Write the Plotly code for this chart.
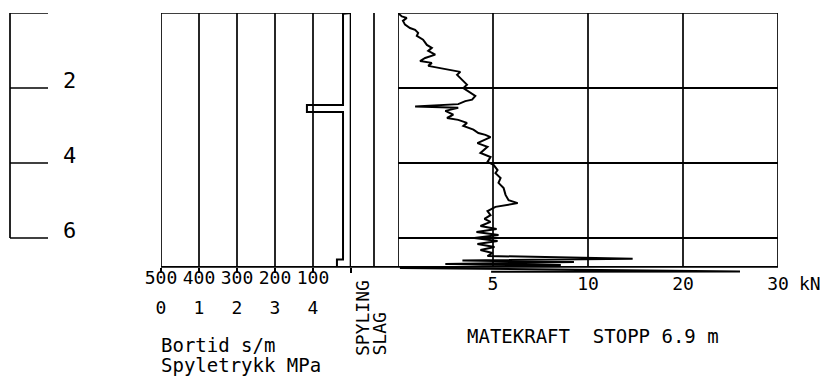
import plotly.graph_objects as go

# page is shown with an 8 px body margin: build the figure in page coordinates
OFF = 8
FIG_W, FIG_H = 822, 372
FONT = "DejaVu Sans Mono"

# ---------------- data ----------------
# depth ruler (m)
DEPTH_TICKS = [0, 2, 4, 6]
DEPTH_LABELS = ["", "2", "4", "6"]
GRID_DEPTHS = [2, 4, 6]
AXIS_BOTTOM_DEPTH = 6.77
STOP_DEPTH = 6.9

# Bortid (s/m) vs depth (m)
BORTID_DEPTH = [0.0, 0.02, 2.45, 2.45, 2.64, 2.64, 6.57, 6.57, 6.77]
BORTID_SM = [0, 21, 21, 116, 116, 21, 21, 37, 37]
BORTID_TICKS = [500, 400, 300, 200, 100, 0]
BORTID_LABELS = ["500", "400", "300", "200", "100", ""]

# Spyletrykk (MPa) scale
SPYLE_TICKS = [0, 1, 2, 3, 4]
SPYLE_LABELS = ["0", "1", "2", "3", "4"]

# Matekraft (kN) vs depth (m)
MATE_DEPTH = [0.00, 0.09, 0.13, 0.21, 0.31, 0.40, 0.45, 0.53, 0.61, 0.71,
              0.85, 0.93, 1.01, 1.11, 1.20, 1.28, 1.33, 1.41, 1.47, 1.51,
              1.55, 1.57, 1.65, 1.78, 1.91, 2.00, 2.13, 2.21, 2.31, 2.35,
              2.43, 2.49, 2.53, 2.61, 2.71, 2.80, 2.85, 2.93, 3.01, 3.11,
              3.20, 3.25, 3.31, 3.47, 3.57, 3.73, 3.84, 3.97, 4.05, 4.19,
              4.27, 4.40, 4.53, 4.67, 4.85, 4.99, 5.07, 5.12, 5.17, 5.28,
              5.39, 5.49, 5.57, 5.68, 5.76, 5.84, 5.92, 6.00, 6.08, 6.16,
              6.24, 6.32, 6.40, 6.48, 6.55, 6.60, 6.64, 6.69, 6.72, 6.80,
              6.89, 6.90]
MATE_KN = [0.0, 0.20, 0.46, 0.26, 0.37, 0.63, 0.90, 1.06, 0.99, 1.32,
           1.52, 1.78, 1.59, 1.96, 1.43, 1.16, 1.78, 1.59, 2.22, 2.65,
           3.02, 3.28, 3.11, 3.37, 3.63, 3.44, 3.81, 4.07, 3.90, 3.54,
           3.17, 0.90, 3.17, 2.49, 2.91, 2.58, 3.17, 3.63, 3.44, 3.97,
           4.23, 4.60, 4.87, 4.18, 4.71, 4.34, 4.87, 4.71, 5.03, 5.24,
           5.13, 5.40, 5.29, 5.56, 5.66, 5.82, 6.30, 5.77, 5.13, 4.71,
           4.87, 4.55, 4.87, 4.34, 5.19, 4.13, 5.29, 4.02, 5.24, 4.18,
           5.08, 4.34, 4.97, 4.71, 14.7, 3.39, 9.26, 2.49, 8.57, 0.10,
           26.0, 4.9]
KN_TICKS = [5, 10, 20, 30]
KN_LABELS = ["5", "10", "20", "30"]


def kn_axis(v):
    """Force scale: linear 0-10 kN, half scale 10-30 kN."""
    return v if v <= 10 else 10 + (v - 10) / 2.0


def px(x):
    return (x - OFF) / FIG_W


def py(y):
    return 1 - (y - OFF) / FIG_H


DMAX = (273 - 13) / 37.5
YDOM = [py(273), py(13)]
POS_BOTTOM = py(267)
BLACK = "black"

fig = go.Figure()

fig.add_trace(go.Scatter(x=BORTID_SM, y=BORTID_DEPTH, xaxis="x2", yaxis="y2",
                         mode="lines", line=dict(color=BLACK, width=2),
                         showlegend=False, hoverinfo="skip"))
fig.add_trace(go.Scatter(x=[], y=[], xaxis="x4", yaxis="y2", mode="lines",
                         showlegend=False, hoverinfo="skip"))
fig.add_trace(go.Scatter(x=[kn_axis(v) for v in MATE_KN], y=MATE_DEPTH,
                         xaxis="x3", yaxis="y3", mode="lines",
                         line=dict(color=BLACK, width=2),
                         showlegend=False, hoverinfo="skip"))

tickfont = dict(family=FONT, size=18, color=BLACK)

layout = dict(
    template="none",
    width=FIG_W, height=FIG_H,
    margin=dict(l=0, r=0, t=0, b=0, pad=0, autoexpand=False),
    paper_bgcolor="white", plot_bgcolor="rgba(0,0,0,0)",
    showlegend=False,
    font=dict(family=FONT, color=BLACK),
    xaxis=dict(domain=[px(10), px(48)], range=[0, 1], visible=False, anchor="y",
               automargin=False),
    yaxis=dict(domain=YDOM, range=[DMAX, 0], visible=False, anchor="x",
               automargin=False),
    xaxis2=dict(domain=[px(161), px(351)], range=[500, 0], anchor="free",
                position=POS_BOTTOM, showline=False, showgrid=False,
                zeroline=False, ticks="outside", ticklen=5, tickwidth=1.6,
                tickcolor=BLACK, tickvals=BORTID_TICKS, ticktext=BORTID_LABELS,
                tickfont=tickfont, ticklabelstandoff=-11, automargin=False),
    yaxis2=dict(domain=YDOM, range=[DMAX, 0], visible=False, anchor="x2",
                automargin=False),
    xaxis4=dict(overlaying="x2", range=[0, 5], anchor="free",
                position=py(295), showline=False, showgrid=False,
                zeroline=False, ticks="", tickvals=SPYLE_TICKS,
                ticktext=SPYLE_LABELS, tickfont=tickfont, automargin=False),
    xaxis3=dict(domain=[px(398), px(778)], range=[0, 20], anchor="free",
                position=py(270.5), showline=False, showgrid=False,
                zeroline=False, ticks="",
                tickvals=[kn_axis(v) for v in KN_TICKS], ticktext=KN_LABELS,
                tickfont=tickfont, automargin=False),
    yaxis3=dict(domain=YDOM, range=[DMAX, 0], anchor="x3", showgrid=True,
                gridcolor=BLACK, gridwidth=1.6, tickvals=GRID_DEPTHS,
                showticklabels=False, ticks="", zeroline=False, showline=False,
                automargin=False),
)
fig.update_layout(**layout)

shapes = []
LW = 1.7
# depth ruler
shapes.append(dict(type="line", xref="paper", yref="y", x0=px(10), x1=px(10),
                   y0=DEPTH_TICKS[0], y1=DEPTH_TICKS[-1],
                   line=dict(color=BLACK, width=LW)))
for d in DEPTH_TICKS:
    shapes.append(dict(type="line", xref="paper", yref="y", x0=px(10), x1=px(48),
                       y0=d, y1=d, line=dict(color=BLACK, width=LW)))
# left panel frame and grid
shapes.append(dict(type="rect", xref="x2", yref="y2", x0=BORTID_TICKS[0], x1=0,
                   y0=0, y1=AXIS_BOTTOM_DEPTH, line=dict(color=BLACK, width=LW)))
shapes.append(dict(type="line", xref="x2", yref="y2", x0=0, x1=0,
                   y0=0, y1=AXIS_BOTTOM_DEPTH, line=dict(color=BLACK, width=2.6)))
for v in BORTID_TICKS[1:-1]:
    shapes.append(dict(type="line", xref="x2", yref="y2", x0=v, x1=v,
                       y0=0, y1=AXIS_BOTTOM_DEPTH, line=dict(color=BLACK, width=LW)))
# spyling / slag column
shapes.append(dict(type="line", xref="paper", yref="y2", x0=px(351), x1=px(398),
                   y0=AXIS_BOTTOM_DEPTH, y1=AXIS_BOTTOM_DEPTH,
                   line=dict(color=BLACK, width=LW)))
shapes.append(dict(type="line", xref="paper", yref="y2", x0=px(374), x1=px(374),
                   y0=0, y1=AXIS_BOTTOM_DEPTH, line=dict(color=BLACK, width=LW)))
# right panel frame and grid
shapes.append(dict(type="rect", xref="x3", yref="y3", x0=0, x1=kn_axis(KN_TICKS[-1]),
                   y0=0, y1=AXIS_BOTTOM_DEPTH, line=dict(color=BLACK, width=LW)))
for v in KN_TICKS[:-1]:
    shapes.append(dict(type="line", xref="x3", yref="y3", x0=kn_axis(v), x1=kn_axis(v),
                       y0=0, y1=AXIS_BOTTOM_DEPTH, line=dict(color=BLACK, width=LW)))
fig.update_layout(shapes=shapes)

ann = []
for d, lab in zip(DEPTH_TICKS, DEPTH_LABELS):
    if lab:
        ann.append(dict(text=lab, xref="paper", yref="y", x=px(61), y=d,
                        xanchor="left", yanchor="bottom", yshift=-7, showarrow=False,
                        font=dict(family=FONT, size=22, color=BLACK)))
txtfont = dict(family=FONT, size=19, color=BLACK)
ann.append(dict(text="Bortid s/m", xref="paper", yref="paper", x=px(159), y=py(345),
                xanchor="left", yanchor="middle", showarrow=False, font=txtfont))
ann.append(dict(text="Spyletrykk MPa", xref="paper", yref="paper", x=px(159), y=py(365),
                xanchor="left", yanchor="middle", showarrow=False, font=txtfont))
ann.append(dict(text="SPYLING", xref="paper", yref="paper", x=px(362), y=py(358),
                xanchor="center", yanchor="bottom", textangle=-90, showarrow=False,
                font=dict(family=FONT, size=18, color=BLACK)))
ann.append(dict(text="SLAG", xref="paper", yref="paper", x=px(379), y=py(358),
                xanchor="center", yanchor="bottom", textangle=-90, showarrow=False,
                font=dict(family=FONT, size=18, color=BLACK)))
ann.append(dict(text="MATEKRAFT  STOPP %.1f m" % STOP_DEPTH, xref="paper", yref="paper",
                x=px(465), y=py(336), xanchor="left", yanchor="middle",
                showarrow=False, font=txtfont))
ann.append(dict(text="kN", xref="paper", yref="paper", x=px(797), y=py(283),
                xanchor="left", yanchor="middle", showarrow=False, font=tickfont))
fig.update_layout(annotations=ann)

fig.write_html("out.html")
